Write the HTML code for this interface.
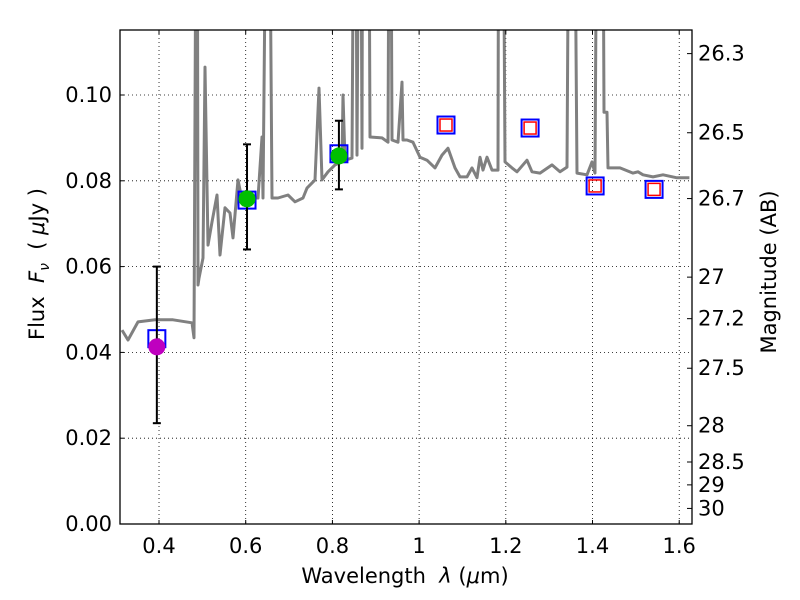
<!DOCTYPE html>
<html><head><meta charset="utf-8"><style>
body{margin:0;background:#fff}
svg{display:block;font-family:"DejaVu Sans","Liberation Sans",sans-serif}
</style></head><body>
<svg id="chart" width="800" height="600" viewBox="0 0 800 600" xmlns="http://www.w3.org/2000/svg">
<rect width="800" height="600" fill="#fff"/>
<g id="grid"></g>
<defs><clipPath id="pc"><rect x="120" y="30" width="572" height="494"/></clipPath></defs>
<g id="spec" clip-path="url(#pc)"></g>
<g id="marks"></g>
<rect x="120" y="30" width="572" height="494" fill="none" stroke="#000" stroke-width="1.3"/>
<g id="axes" font-size="20" fill="#000"></g>
<text x="405" y="583" font-size="21" text-anchor="middle">Wavelength&#160;&#160;<tspan font-style="italic">λ</tspan> (<tspan font-style="italic">μ</tspan>m)</text>
<text transform="translate(44,264) rotate(-90)" font-size="21" text-anchor="middle">Flux&#160;&#160;<tspan font-style="italic">F</tspan><tspan font-style="italic" font-size="14" dy="5">ν</tspan><tspan dy="-5">&#160;&#160;( </tspan><tspan font-style="italic">μ</tspan>Jy )</text>
<text transform="translate(776,272) rotate(-90)" font-size="21" text-anchor="middle">Magnitude (AB)</text>
</svg>
<script>
const xTicks=[0.4,0.6,0.8,1.0,1.2,1.4,1.6];
const xTickLabels=["0.4","0.6","0.8","1","1.2","1.4","1.6"];
const yTicks=[0,0.02,0.04,0.06,0.08,0.10];
const yTickLabels=["0.00","0.02","0.04","0.06","0.08","0.10"];
const magTicks=[26.3,26.5,26.7,27,27.2,27.5,28,28.5,29,30];
const magTickLabels=["26.3","26.5","26.7","27","27.2","27.5","28","28.5","29","30"];
const specWave=[0.3146,0.3285,0.3515,0.3907,0.4323,0.4761,0.4807,0.4876,0.4899,0.4922,0.5015,0.5061,0.513,0.5222,0.5338,0.5407,0.5522,0.5637,0.5707,0.5822,0.5937,0.6053,0.6283,0.6376,0.6399,0.6514,0.6606,0.6745,0.6975,0.7137,0.7321,0.7414,0.7598,0.769,0.776,0.7898,0.806,0.8221,0.8244,0.829,0.8452,0.8521,0.8567,0.8636,0.8682,0.8705,0.8821,0.8867,0.9144,0.9282,0.9328,0.9375,0.9513,0.9605,0.9628,0.9721,0.9859,1.002,1.0182,1.0366,1.0528,1.0666,1.0828,1.0943,1.1105,1.122,1.1335,1.1405,1.1474,1.1566,1.1681,1.182,1.1843,1.1912,1.1981,1.2143,1.2258,1.2489,1.2604,1.2788,1.3065,1.325,1.3411,1.348,1.355,1.3642,1.3873,1.3988,1.4057,1.4126,1.4219,1.4265,1.4334,1.4357,1.4634,1.4934,1.5049,1.5165,1.5395,1.5626,1.5949,1.6235];
const specFlux=[.0452,.0429,.0471,.0476,.0476,.0469,.0434,.2,.0557,.0573,.062,.1065,.065,.0704,.0767,.0627,.0737,.0725,.0667,.0802,.0744,.076,.076,.0902,.076,.2,.076,.076,.0767,.0751,.076,.0783,.0802,.1016,.0802,.0821,.0837,.0844,.1,.0848,.0853,.2,.086,.2,.0876,.2,.2,.0902,.09,.089,.2,.0895,.089,.103,.0895,.0895,.089,.0855,.0848,.083,.086,.0876,.083,.0809,.0809,.083,.0807,.0855,.0825,.0855,.0825,.0825,.2,.2,.0844,.083,.0821,.0848,.0821,.0818,.0837,.0821,.0832,.2,.2,.0818,.0814,.0844,.0818,.2,.2,.096,.096,.083,.083,.0818,.0821,.0814,.0809,.0814,.0807,.0807];
const obsWave=[0.395,0.603,0.815];
const obsFlux=[0.0413,0.0758,0.0858];
const obsErrLo=[0.0235,0.064,0.078];
const obsErrHi=[0.060,0.0885,0.094];
const obsColor=["#bf00bf","#00bf00","#00bf00"];
const modelWave=[0.395,0.603,0.815];
const modelFlux=[0.0432,0.0755,0.0863];
const predWave=[1.062,1.256,1.406,1.542];
const predFlux=[0.0930,0.0923,0.0788,0.0780];

const X0=120,X1=692,Y0=524,Y1=30,xmin=0.31,xmax=0.31+572/433.5,ymin=0,ymax=494/4290;
const sx=v=>X0+(v-xmin)/(xmax-xmin)*(X1-X0);
const sy=v=>Y0-(v-ymin)/(ymax-ymin)*(Y0-Y1);
const magToFlux=m=>Math.pow(10,(23.9-m)/2.5);
const NS="http://www.w3.org/2000/svg";
function mk(tag,attrs,parent){const e=document.createElementNS(NS,tag);for(const k in attrs)e.setAttribute(k,attrs[k]);parent.appendChild(e);return e;}
const grid=document.getElementById('grid'),axes=document.getElementById('axes'),spec=document.getElementById('spec'),marks=document.getElementById('marks');
xTicks.forEach((t,i)=>{const x=sx(t);
 let g=mk('line',{x1:x,x2:x,y1:Y1,y2:Y0,stroke:'#000','stroke-width':0.8,'stroke-dasharray':'1,3'},grid);
 
 
 mk('line',{x1:x,x2:x,y1:Y0,y2:Y0-4,stroke:'#000'},axes);
 mk('line',{x1:x,x2:x,y1:Y1,y2:Y1+4,stroke:'#000'},axes);
 let l=mk('text',{x:x,y:553,'text-anchor':'middle','font-size':21},axes);l.textContent=xTickLabels[i];
 
 
});
yTicks.forEach((t,i)=>{const y=sy(t);
 let g=mk('line',{x1:X0,x2:X1,y1:y,y2:y,stroke:'#000','stroke-width':0.8,'stroke-dasharray':'1,3'},grid);
 
 
 mk('line',{x1:X0,x2:X0+4,y1:y,y2:y,stroke:'#000'},axes);
 let l=mk('text',{x:112,y:y+7,'text-anchor':'end','font-size':21},axes);l.textContent=yTickLabels[i];
 
 
});
magTicks.forEach((m,i)=>{const y=sy(magToFlux(m));
 mk('line',{x1:X1,x2:X1-5,y1:y,y2:y,stroke:'#000'},axes);
 let l=mk('text',{x:698,y:y+7,'text-anchor':'start','font-size':21},axes);l.textContent=magTickLabels[i];
 
 
});
let d=specWave.map((w,i)=>(i?'L':'M')+sx(w).toFixed(1)+','+sy(specFlux[i]).toFixed(1)).join('');
let p=mk('path',{d:d,fill:'none',stroke:'#808080','stroke-width':3,'stroke-linejoin':'round'},spec);


modelWave.forEach((w,i)=>{const x=sx(w),y=sy(modelFlux[i]);
 let r=mk('rect',{x:x-8.5,y:y-8.5,width:17,height:17,fill:'none',stroke:'#0000ff','stroke-width':2},marks);
 
 
});
obsWave.forEach((w,i)=>{const x=sx(w);
 let e=mk('g',{stroke:'#000','stroke-width':2},marks);
 
 
 mk('line',{x1:x,x2:x,y1:sy(obsErrLo[i]),y2:sy(obsErrHi[i])},e);
 mk('line',{x1:x-4,x2:x+4,y1:sy(obsErrLo[i]),y2:sy(obsErrLo[i])},e);
 mk('line',{x1:x-4,x2:x+4,y1:sy(obsErrHi[i]),y2:sy(obsErrHi[i])},e);
 let c=mk('circle',{cx:x,cy:sy(obsFlux[i]),r:8.5,fill:obsColor[i]},marks);
 
 
});
predWave.forEach((w,i)=>{const x=sx(w),y=sy(predFlux[i]);
 let r=mk('rect',{x:x-8.5,y:y-8.5,width:17,height:17,fill:'none',stroke:'#0000ff','stroke-width':2},marks);
 
 
 let r2=mk('rect',{x:x-6,y:y-6,width:12,height:12,fill:'none',stroke:'#ff0000','stroke-width':1.5},marks);
 
 
});
</script>
</body></html>
